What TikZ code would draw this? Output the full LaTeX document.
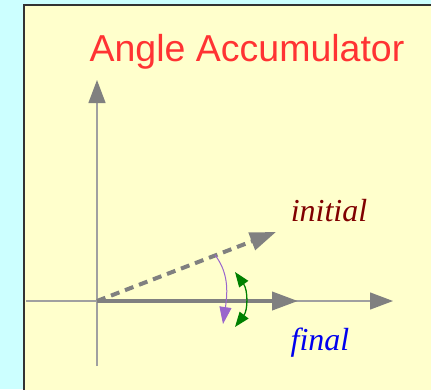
\documentclass[tikz,border=0pt]{standalone}
\usepackage{fontspec}
\setmainfont{Liberation Serif}
\newfontfamily\titlefont{Liberation Sans}
\usetikzlibrary{arrows.meta}
\definecolor{bgcyan}{HTML}{CCFFFF}
\definecolor{boxyellow}{HTML}{FFFFCC}
\definecolor{titlered}{HTML}{FF3333}
\definecolor{axisgray}{HTML}{A0A0A0}
\definecolor{vecgray}{HTML}{808080}
\definecolor{initred}{HTML}{800000}
\definecolor{finalblue}{HTML}{0000EE}
\definecolor{lavender}{HTML}{9966CC}
\definecolor{darkgreen}{HTML}{008000}
\tikzset{
  axisline/.style={draw=axisgray, line width=1.3pt, -{Triangle[length=23pt,width=17pt,color=vecgray,fill=vecgray]}},
  vecline/.style={draw=vecgray, line width=4pt, -{Triangle[length=26pt,width=18pt]}},
  lbl/.style={font=\fontsize{32}{34}\selectfont\itshape, inner sep=0pt, anchor=base},
}
\begin{document}
\begin{tikzpicture}[x=1pt,y=-1pt]
\useasboundingbox (0,0) rectangle (431,389);
\fill[bgcyan] (0,0) rectangle (431,389);
\fill[boxyellow] (24,5) rectangle (440,400);
\draw[color=black!80, line width=1.2pt] (24,400) -- (24,5) -- (440,5);
\node[font=\titlefont\fontsize{37.5}{40}\selectfont, text=titlered, anchor=base, inner sep=0pt] (title) at (247,61) {Angle Accumulator};
% axes
\coordinate (O) at (97,301);
\coordinate (Ybot) at (97,366);
\coordinate (Ytop) at (97,80);
\coordinate (Xleft) at (26,301);
\coordinate (Xright) at (393,301);
\draw[axisline] (Ybot) -- (Ytop);
\draw[axisline] (Xleft) -- (Xright);
% vectors
\coordinate (Ftip) at (298,301);
\coordinate (Itip) at (276,232);
\draw[vecline] (O) -- (Ftip);
\draw[vecline, dash pattern=on 9pt off 6pt] (O) -- (Itip);
% labels
\node[lbl, text=initred] (initial) at (329,221) {initial};
\node[lbl, text=finalblue] (final) at (320,350) {final};
% purple arrow
\coordinate (P1) at (215,255);
\coordinate (P2) at (223,324);
\draw[draw=lavender, line width=1pt, -{Triangle[length=17pt,width=12pt,color=lavender,fill=lavender]}] (P1) .. controls (228,272) and (228,290) .. (P2);
% green double arrow
\coordinate (G1) at (235,272);
\coordinate (G2) at (235,327);
\draw[darkgreen, line width=1.3pt, {Triangle[length=15pt,width=11pt]}-{Triangle[length=15pt,width=11pt]}] (G1) .. controls (248,290) and (248,310) .. (G2);
\end{tikzpicture}
\end{document}
